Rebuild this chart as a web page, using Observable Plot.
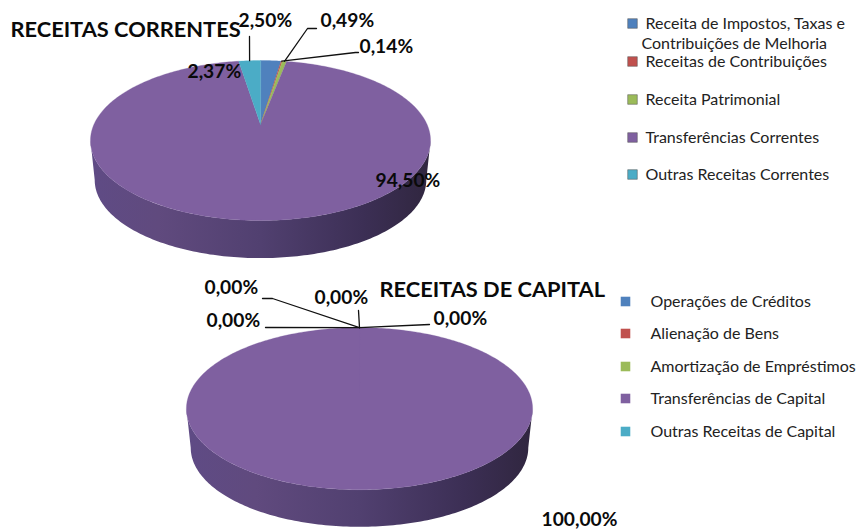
<!DOCTYPE html>
<html>
<head>
<meta charset="utf-8">
<script src="https://cdn.jsdelivr.net/npm/d3@7"></script>
<script src="https://cdn.jsdelivr.net/npm/@observablehq/plot@0.6"></script>
<style>
html,body{margin:0;padding:0;background:#fff;overflow:hidden}
svg{display:block}
</style>
</head>
<body>
<div id="chart"></div>
<script>
// ---- data
const sliceColors = ["#4f81bd", "#c0504d", "#9bbb59", "#7f60a0", "#4bacc6"];

const correntesTitle = "RECEITAS CORRENTES";
const correntesCategories = [
  "Receita de Impostos, Taxas e\nContribuições de Melhoria",
  "Receitas de Contribuições",
  "Receita Patrimonial",
  "Transferências Correntes",
  "Outras Receitas Correntes"
];
const correntesValues = [2.37, 0.14, 0.49, 94.50, 2.50];

const capitalTitle = "RECEITAS DE CAPITAL";
const capitalCategories = [
  "Operações de Créditos",
  "Alienação de Bens",
  "Amortização de Empréstimos",
  "Transferências de Capital",
  "Outras Receitas de Capital"
];
const capitalValues = [0, 0, 0, 100, 0];

// ---- layout (kept apart from the data)
const correntesPie = {cx: 260, apexY: 124, ax: 166.6, ay: 76.8, k: 0.2, depth: 40, id: "sideA"};
const capitalPie   = {cx: 359, apexY: 392, ax: 169.6, ay: 77.8, k: 0.2, depth: 39.5, id: "sideB"};
const correntesLabelPos = [[187, 71], [359, 46], [320, 20], [375, 180], [238, 20]];
const capitalLabelPos   = [[206, 320], [204, 287], [314, 297], [541, 519], [433, 318]];
const correntesElbows = [null, [[355, 52], [358, 52]], [[307, 28], [316, 28]], null, [[249, 36]]];
const capitalElbows   = [[[265, 327]], [[272, 298], [262, 298]], [[358, 310]], null, [[429, 324]]];
const correntesLegend = {swatchX: 632, textX: 645, ys: [23, 61, 99, 137, 174], stroke: true};
const capitalLegend   = {swatchX: 625, textX: 650, ys: [301, 333, 366, 398, 431], stroke: false};
const fontBold = 19.2, fontTitle = 21.8, fontLegend = 16;

// ---- geometry derived from the values
const rad = d => d * Math.PI / 180;
function rim(p, deg, drop = 0, shrink = 1) {
  const t = rad(deg), w = 1 + p.k * Math.cos(t);
  return [p.cx + shrink * p.ax * Math.sin(t) / w, p.apexY + drop - shrink * p.ay * Math.cos(t) / w];
}
function angles(values) {
  const total = d3.sum(values);
  let acc = 0;
  return values.map(v => { const a0 = acc; acc += v; return [a0 / total * 360, acc / total * 360]; });
}
function slices(p, values) {
  const out = [];
  angles(values).forEach(([a0, a1], i) => {
    if (a1 <= a0) return;
    out.push({s: i, c: sliceColors[i], x: p.cx, y: p.apexY});
    const n = Math.max(1, Math.ceil(a1 - a0));
    for (let j = 0; j <= n; j++) {
      const [x, y] = rim(p, a0 + (a1 - a0) * j / n);
      out.push({s: i, c: sliceColors[i], x, y});
    }
  });
  return out;
}
function sidePolygon(p) {
  // angle of the visible widest points of the projected disc
  const turn = Math.acos(-p.k) * 180 / Math.PI;
  const front = d3.range(turn, 360 - turn + 0.5, 1);
  const pts = [];
  front.forEach(a => { const [x, y] = rim(p, a); pts.push({x, y}); });
  front.slice().reverse().forEach(a => { const [x, y] = rim(p, a, p.depth, 0.975); pts.push({x, y}); });
  return pts;
}
function leaders(p, values, elbows, group) {
  const out = [];
  angles(values).forEach(([a0, a1], i) => {
    if (!elbows[i]) return;
    const [x, y] = rim(p, (a0 + a1) / 2);
    out.push({g: group + i, x, y});
    elbows[i].forEach(([ex, ey]) => out.push({g: group + i, x: ex, y: ey}));
  });
  return out;
}
const fmt = v => v.toFixed(2).replace(".", ",") + "%";
const labels = (values, pos) => values.map((v, i) => ({t: fmt(v), x: pos[i][0], y: pos[i][1]}));
const legendRows = (cats, lg) => cats.map((t, i) => ({t, c: sliceColors[i], y: lg.ys[i]}));

function gradientDefs() {
  const defs = d3.create("svg:defs");
  [correntesPie.id, capitalPie.id].forEach(id => {
    const g = defs.append("linearGradient").attr("id", id);
    [[0, "#5f4b85"], [0.2, "#604a7e"], [0.5, "#514070"], [0.8, "#3c2f55"], [1, "#30263f"]]
      .forEach(([o, c]) => g.append("stop").attr("offset", o).attr("stop-color", c));
  });
  return defs.node();
}

function pieMarks(p, values, elbows, group) {
  return [
    Plot.line(sidePolygon(p), {x: "x", y: "y", curve: "linear-closed", fill: `url(#${p.id})`, stroke: "none"}),
    Plot.line(slices(p, values), {x: "x", y: "y", z: "s", curve: "linear-closed", fill: "c", stroke: "c", strokeWidth: 0.3}),
    Plot.line(leaders(p, values, elbows, group), {x: "x", y: "y", z: "g", stroke: "#111", strokeWidth: 1.3})
  ];
}
const boldText = data => Plot.text(data, {
  x: "x", y: "y", text: "t", textAnchor: "start", lineAnchor: "middle",
  fontFamily: "Lato", fontWeight: 700, fontSize: fontBold, fill: "#0a0a0a"
});
function legendMarks(cats, lg) {
  const rows = legendRows(cats, lg);
  return [
    Plot.dot(rows, {x: () => lg.swatchX, y: "y", symbol: "square", r: 5.4, fill: "c",
      stroke: lg.stroke ? "#5a5a5a" : "none", strokeOpacity: 0.55, strokeWidth: 1}),
    Plot.text(rows.map(d => ({...d, t: d.t.split("\n")[0]})), {
      x: () => lg.textX, y: "y", text: "t", textAnchor: "start", lineAnchor: "middle",
      fontFamily: "Lato", fontSize: fontLegend, fill: "#222"})
  ];
}

const chart = Plot.plot({
  width: 856, height: 529, margin: 0,
  style: {background: "#fff"},
  x: {type: "linear", domain: [0, 856], range: [0, 856], axis: null},
  y: {type: "linear", domain: [0, 529], range: [0, 529], axis: null},
  color: {type: "identity"},
  marks: [
    gradientDefs,
    ...pieMarks(correntesPie, correntesValues, correntesElbows, "a"),
    ...pieMarks(capitalPie, capitalValues, capitalElbows, "b"),
    boldText(labels(correntesValues, correntesLabelPos)),
    boldText(labels(capitalValues, capitalLabelPos)),
    Plot.text([correntesTitle], {x: () => 10, y: () => 30, text: d => d, textAnchor: "start", lineAnchor: "middle",
      fontFamily: "Lato", fontWeight: 700, fontSize: fontTitle, fill: "#0a0a0a"}),
    Plot.text([capitalTitle], {x: () => 379, y: () => 290, text: d => d, textAnchor: "start", lineAnchor: "middle",
      fontFamily: "Lato", fontWeight: 700, fontSize: fontTitle, fill: "#0a0a0a"}),
    ...legendMarks(correntesCategories, correntesLegend),
    Plot.text([correntesCategories[0].split("\n")[1]], {x: () => 641, y: () => 43, text: d => d, textAnchor: "start", lineAnchor: "middle",
      fontFamily: "Lato", fontSize: fontLegend, fill: "#222"}),
    ...legendMarks(capitalCategories, capitalLegend)
  ]
});
document.getElementById("chart").appendChild(chart);
</script>
</body>
</html>
